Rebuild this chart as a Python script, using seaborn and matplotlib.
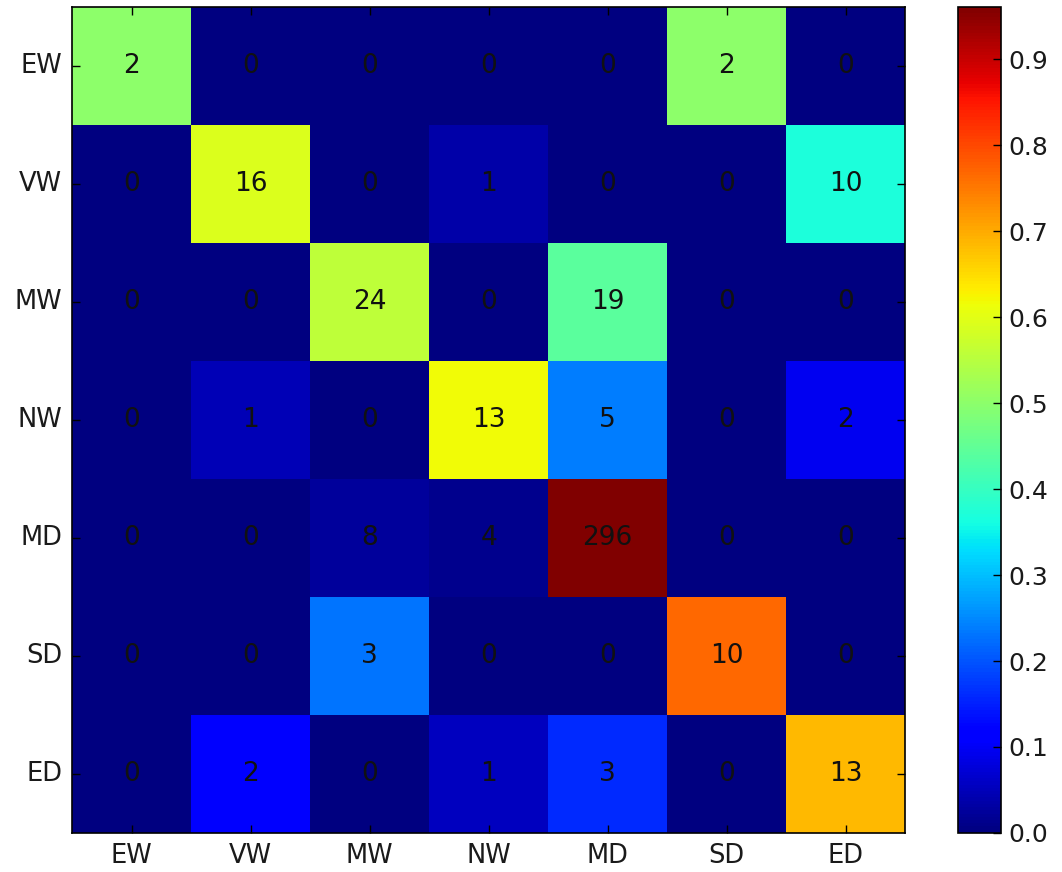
import numpy as np
import matplotlib
matplotlib.use("Agg")
import matplotlib.pyplot as plt
import seaborn as sns

labels = ["EW", "VW", "MW", "NW", "MD", "SD", "ED"]
row_EW = [2, 0, 0, 0, 0, 2, 0]
row_VW = [0, 16, 0, 1, 0, 0, 10]
row_MW = [0, 0, 24, 0, 19, 0, 0]
row_NW = [0, 1, 0, 13, 5, 0, 2]
row_MD = [0, 0, 8, 4, 296, 0, 0]
row_SD = [0, 0, 3, 0, 0, 10, 0]
row_ED = [0, 2, 0, 1, 3, 0, 13]

counts = np.array([row_EW, row_VW, row_MW, row_NW, row_MD, row_SD, row_ED])
norm = counts / counts.sum(axis=1, keepdims=True)

sns.set_style("white")
plt.rcParams["font.family"] = ["DejaVu Sans"]
plt.rcParams["text.color"] = "#1a1a1a"
plt.rcParams["axes.axisbelow"] = False

fig = plt.figure(figsize=(10.62, 8.72), dpi=100)
ax = fig.add_axes([0.0678, 0.0448, 0.7845, 0.9472])
cax = fig.add_axes([0.9025, 0.0448, 0.0405, 0.9472])

sns.heatmap(norm, ax=ax, cbar_ax=cax, cmap="jet", vmin=0, vmax=norm.max(),
            annot=counts, fmt="d", annot_kws={"color": "#111111", "fontsize": 19},
            xticklabels=labels, yticklabels=labels, square=False)

ax.set_axisbelow(False)
cax.set_axisbelow(False)
ax.set_yticklabels(labels, rotation=0, fontsize=18.5, color="#1a1a1a")
ax.set_xticklabels(labels, rotation=0, fontsize=18.5, color="#1a1a1a")
ax.tick_params(axis="both", which="both", direction="in", length=6, width=1,
               color="black", top=True, right=True, bottom=True, left=True, pad=7)
for s in ax.spines.values():
    s.set_visible(True)
    s.set_color("black")
    s.set_linewidth(1.2)

cb = ax.collections[0].colorbar
cb.outline.set_visible(True)
cb.outline.set_linewidth(1.2)
cb.outline.set_edgecolor("black")
ticks = np.arange(0, 1.0, 0.1)
cb.set_ticks(ticks)
cb.ax.set_yticklabels([f"{t:.1f}" for t in ticks], fontsize=18, color="#1a1a1a")
cb.ax.tick_params(direction="in", length=6, width=1, color="black", right=True, pad=5)

fig.savefig("out.png", dpi=100)
